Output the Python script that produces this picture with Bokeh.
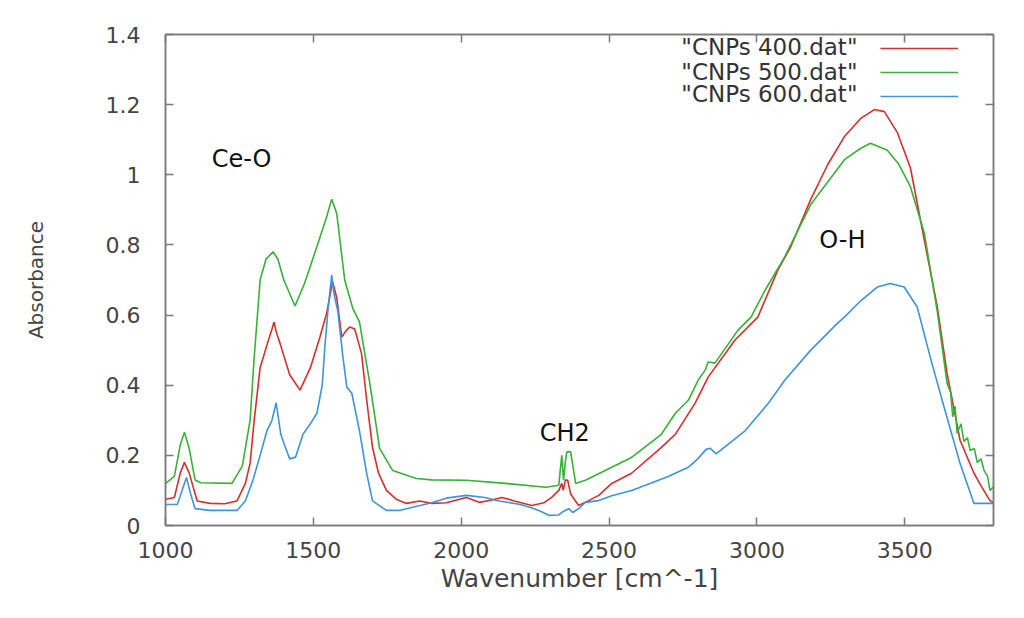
from bokeh.plotting import figure
from bokeh.models import (Legend, LegendItem, Label, LinearAxis, FixedTicker, Range1d)
from bokeh.embed import file_html
from bokeh.resources import INLINE

# ---------------- data ----------------
wn_400 = [1000, 1030, 1050, 1064, 1080, 1107, 1151, 1200, 1242, 1270, 1286, 1300, 1320,
          1345, 1360, 1367, 1375, 1387, 1420, 1455, 1490, 1522, 1545, 1565, 1579, 1596,
          1610, 1623, 1640, 1663, 1680, 1700, 1720, 1747, 1780, 1815, 1859, 1900, 1950,
          2017, 2061, 2100, 2138, 2180, 2239, 2280, 2306, 2330, 2340, 2345, 2352, 2360,
          2370, 2397, 2431, 2465, 2509, 2576, 2677, 2724, 2791, 2835, 2926, 3003, 3071,
          3114, 3182, 3240, 3296, 3350, 3397, 3431, 3475, 3519, 3566, 3610, 3643, 3687,
          3734, 3760, 3788, 3800]
abs_400 = [0.075, 0.08, 0.15, 0.18, 0.15, 0.07, 0.063, 0.062, 0.07, 0.12, 0.177, 0.30, 0.45,
           0.52, 0.56, 0.58, 0.55, 0.52, 0.43, 0.386, 0.45, 0.537, 0.605, 0.695, 0.65, 0.537,
           0.555, 0.566, 0.56, 0.49, 0.36, 0.223, 0.15, 0.10, 0.075, 0.063, 0.07, 0.063, 0.065,
           0.08, 0.066, 0.072, 0.08, 0.07, 0.057, 0.065, 0.08, 0.10, 0.12, 0.10, 0.13, 0.129,
           0.09, 0.057, 0.071, 0.086, 0.12, 0.149, 0.223, 0.26, 0.349, 0.423, 0.529, 0.594, 0.729,
           0.794, 0.93, 1.03, 1.109, 1.16, 1.186, 1.18, 1.12, 1.02, 0.814, 0.623, 0.434, 0.243,
           0.149, 0.11, 0.071, 0.065]

wn_500 = [1000, 1030, 1050, 1064, 1080, 1100, 1120, 1225, 1260, 1286, 1300, 1320, 1340,
          1364, 1380, 1400, 1438, 1470, 1512, 1545, 1562, 1579, 1606, 1633, 1656, 1690,
          1724, 1768, 1848, 1900, 2017, 2150, 2286, 2330, 2340, 2346, 2352, 2357, 2370,
          2387, 2420, 2509, 2576, 2677, 2724, 2768, 2801, 2825, 2835, 2858, 2936, 2980,
          3027, 3094, 3182, 3240, 3296, 3350, 3384, 3441, 3480, 3519, 3566, 3610, 3643,
          3655, 3662, 3670, 3677, 3690, 3700, 3712, 3721, 3735, 3745, 3758, 3768, 3780,
          3788, 3800]
abs_500 = [0.12, 0.14, 0.23, 0.266, 0.22, 0.13, 0.122, 0.12, 0.17, 0.30, 0.48, 0.70, 0.76,
           0.78, 0.76, 0.70, 0.626, 0.69, 0.795, 0.88, 0.93, 0.89, 0.70, 0.62, 0.58, 0.41,
           0.22, 0.157, 0.134, 0.13, 0.129, 0.12, 0.109, 0.115, 0.20, 0.13, 0.18, 0.21, 0.21,
           0.12, 0.129, 0.166, 0.194, 0.26, 0.32, 0.357, 0.414, 0.443, 0.466, 0.463, 0.557, 0.594,
           0.67, 0.766, 0.915, 0.98, 1.043, 1.075, 1.09, 1.07, 1.03, 0.966, 0.834, 0.61, 0.406,
           0.38, 0.31, 0.34, 0.263, 0.29, 0.24, 0.25, 0.214, 0.22, 0.18, 0.19, 0.157, 0.14,
           0.10, 0.11]

wn_600 = [1000, 1040, 1060, 1071, 1085, 1100, 1150, 1242, 1270, 1296, 1320, 1343, 1360,
          1374, 1390, 1400, 1420, 1440, 1465, 1490, 1512, 1530, 1539, 1550, 1562, 1570,
          1583, 1600, 1613, 1630, 1656, 1680, 1700, 1747, 1791, 1850, 1900, 1950, 2017,
          2080, 2128, 2200, 2240, 2270, 2296, 2330, 2345, 2364, 2377, 2400, 2420, 2465,
          2509, 2576, 2623, 2700, 2744, 2768, 2800, 2828, 2842, 2862, 2900, 2960, 2980,
          3040, 3094, 3182, 3273, 3296, 3350, 3407, 3451, 3498, 3542, 3586, 3633, 3687,
          3734, 3800]
abs_600 = [0.06, 0.06, 0.11, 0.137, 0.09, 0.048, 0.043, 0.043, 0.07, 0.13, 0.20, 0.27, 0.30,
           0.35, 0.26, 0.235, 0.19, 0.195, 0.26, 0.29, 0.32, 0.40, 0.51, 0.62, 0.714, 0.66,
           0.61, 0.48, 0.395, 0.377, 0.27, 0.15, 0.07, 0.043, 0.043, 0.055, 0.065, 0.078, 0.086,
           0.08, 0.07, 0.06, 0.05, 0.04, 0.029, 0.03, 0.04, 0.048, 0.037, 0.05, 0.066, 0.071,
           0.085, 0.10, 0.115, 0.14, 0.157, 0.166, 0.19, 0.217, 0.22, 0.204, 0.23, 0.27, 0.29,
           0.35, 0.414, 0.50, 0.577, 0.594, 0.64, 0.68, 0.69, 0.68, 0.623, 0.48, 0.337, 0.177,
           0.063, 0.063]

series_names = ['"CNPs 400.dat"', '"CNPs 500.dat"', '"CNPs 600.dat"']
series_colors = ["#d62d2d", "#37b137", "#3d94d9"]

x_ticks = [1000, 1500, 2000, 2500, 3000, 3500]
y_ticks = [0, 0.2, 0.4, 0.6, 0.8, 1.0, 1.2, 1.4]
y_tick_labels = {0: "0", 0.2: "0.2", 0.4: "0.4", 0.6: "0.6", 0.8: "0.8", 1.0: "1", 1.2: "1.2", 1.4: "1.4"}

annot_text = ["Ce-O", "CH2", "O-H"]
annot_x = [1257, 2350, 3289]
annot_y = [1.046, 0.265, 0.813]

FONT = "DejaVu Sans"
GRAY = "#7a7a7a"

# ---------------- figure ----------------
p = figure(width=1008, height=602, x_range=Range1d(1000, 3800), y_range=Range1d(0, 1.4),
           output_backend="svg", toolbar_location=None,
           min_border_left=165, min_border_right=15, min_border_top=34, min_border_bottom=77)
p.grid.visible = False
p.outline_line_color = GRAY
p.outline_line_width = 1.5
p.background_fill_color = "white"
p.border_fill_color = "white"

def style_axis(ax, ticks):
    ax.ticker = FixedTicker(ticks=ticks)
    ax.axis_line_color = GRAY
    ax.axis_line_width = 1.5
    ax.major_tick_line_color = GRAY
    ax.major_tick_line_width = 1.5
    ax.major_tick_in = 8
    ax.major_tick_out = 0
    ax.minor_tick_line_color = None
    ax.major_label_text_font = FONT
    ax.major_label_text_font_size = "22px"
    ax.major_label_text_color = "#444444"

style_axis(p.xaxis[0], x_ticks)
style_axis(p.yaxis[0], y_ticks)
p.yaxis[0].major_label_overrides = y_tick_labels
p.yaxis[0].major_label_standoff = 25
p.xaxis[0].major_label_standoff = 16

p.xaxis[0].axis_label = "Wavenumber [cm^-1]"
p.xaxis[0].axis_label_text_font = FONT
p.xaxis[0].axis_label_text_font_size = "25px"
p.xaxis[0].axis_label_text_font_style = "normal"
p.xaxis[0].axis_label_text_color = "#444444"
p.xaxis[0].axis_label_standoff = 3

p.yaxis[0].axis_label = "Absorbance"
p.yaxis[0].axis_label_text_font = FONT
p.yaxis[0].axis_label_text_font_size = "20px"
p.yaxis[0].axis_label_text_font_style = "normal"
p.yaxis[0].axis_label_text_color = "#444444"
p.yaxis[0].axis_label_standoff = 55

# mirrored ticks (gnuplot style) on top and right, no labels drawn
top_ax = LinearAxis()
style_axis(top_ax, x_ticks)
top_ax.major_label_text_color = None
top_ax.major_label_text_font_size = "1px"
p.add_layout(top_ax, "above")
right_ax = LinearAxis()
style_axis(right_ax, y_ticks)
right_ax.major_label_text_color = None
right_ax.major_label_text_font_size = "1px"
p.add_layout(right_ax, "right")

# ---------------- curves ----------------
renderers = []
for wn, ab, col in zip([wn_400, wn_500, wn_600], [abs_400, abs_500, abs_600], series_colors):
    r = p.line(wn, ab, line_color=col, line_width=1.6)
    renderers.append(r)

# legend: line samples (gnuplot puts the text on the left, samples on the right)
legend = Legend(items=[LegendItem(label=" ", renderers=[r]) for r in renderers],
                location=(715, 419), glyph_width=78, glyph_height=20, label_width=0,
                label_standoff=0, label_text_font_size="8px", padding=0, spacing=4,
                border_line_color=None, background_fill_alpha=0)
p.add_layout(legend)

legend_text_x = 3340
legend_text_y = [1.363, 1.294, 1.229]
for name, ly in zip(series_names, legend_text_y):
    p.add_layout(Label(x=legend_text_x, y=ly, text=name, text_align="right",
                       text_baseline="middle", text_font=FONT, text_font_size="23px",
                       text_color="#333333"))

for t, ax_, ay_ in zip(annot_text, annot_x, annot_y):
    p.add_layout(Label(x=ax_, y=ay_, text=t, text_align="center", text_baseline="middle",
                       text_font=FONT, text_font_size="24px", text_color="#111111"))

open("out.html", "w").write(file_html(p, INLINE))
